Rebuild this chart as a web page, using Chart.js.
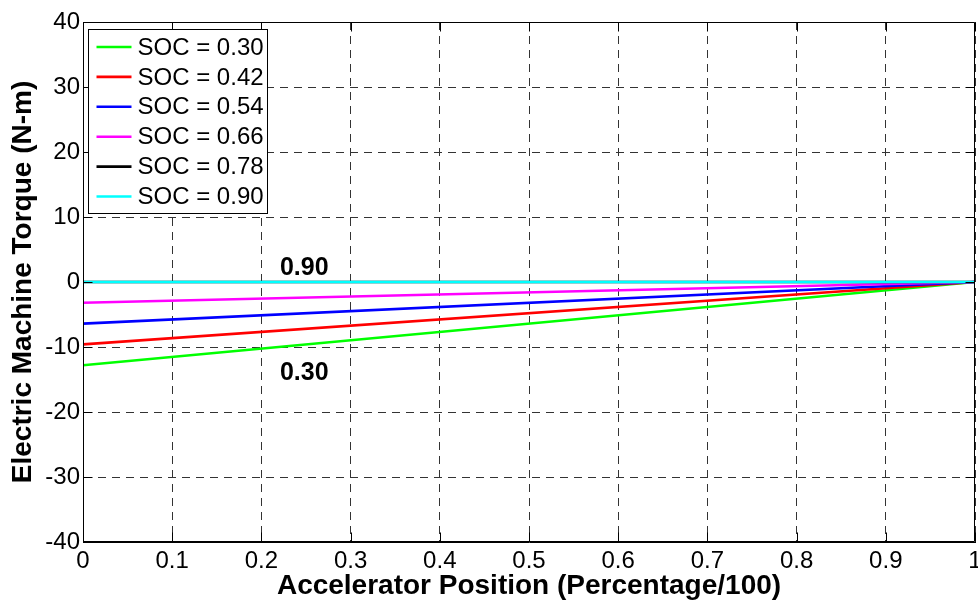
<!DOCTYPE html>
<html>
<head>
<meta charset="utf-8">
<script src="https://cdn.jsdelivr.net/npm/chart.js@4/dist/chart.umd.min.js"></script>
<style>
html,body{margin:0;padding:0;background:#ffffff;}
#wrap{width:978px;height:600px;position:relative;background:#ffffff;}
</style>
</head>
<body>
<div id="wrap"><canvas id="c" width="978" height="600"></canvas></div>
<script>
// ---- data ----
const accelPositions = [0, 1];
const socLabels = ['SOC = 0.30', 'SOC = 0.42', 'SOC = 0.54', 'SOC = 0.66', 'SOC = 0.78', 'SOC = 0.90'];
const torqueSoc030 = [-12.8, 0];
const torqueSoc042 = [-9.6, 0];
const torqueSoc054 = [-6.4, 0];
const torqueSoc066 = [-3.2, 0];
const torqueSoc078 = [0, 0];
const torqueSoc090 = [0, 0];
const seriesColors = ['#00ff00', '#ff0000', '#0000ff', '#ff00ff', '#000000', '#00ffff'];
const xTickValues = [0, 0.1, 0.2, 0.3, 0.4, 0.5, 0.6, 0.7, 0.8, 0.9, 1];
const xTickLabels = ['0', '0.1', '0.2', '0.3', '0.4', '0.5', '0.6', '0.7', '0.8', '0.9', '1'];
const yTickValues = [-40, -30, -20, -10, 0, 10, 20, 30, 40];
const yTickLabels = ['-40', '-30', '-20', '-10', '0', '10', '20', '30', '40'];
const annotationTexts = ['0.90', '0.30'];
const annotationX = [0.248, 0.248];
const annotationY = [2.1, -14.0];

const FONT = "'Liberation Sans', Arial, Helvetica, sans-serif";
const allSeries = [torqueSoc030, torqueSoc042, torqueSoc054, torqueSoc066, torqueSoc078, torqueSoc090];

const datasets = allSeries.map((vals, i) => ({
  label: socLabels[i],
  data: accelPositions.map((x, j) => ({x: x, y: vals[j]})),
  borderColor: seriesColors[i],
  backgroundColor: seriesColors[i],
  borderWidth: 2.6,
  pointRadius: 0,
  tension: 0,
  fill: false,
  order: allSeries.length - 1 - i
}));

const framePlugin = {
  id: 'frame',
  afterDraw(chart) {
    const ctx = chart.ctx;
    const a = chart.chartArea;
    const xs = chart.scales.x, ys = chart.scales.y;
    const L = Math.round(a.left) + 0.5, R = Math.round(a.right) - 0.5;
    const T = Math.round(a.top) + 0.5, B = Math.round(a.bottom) - 0.5;
    ctx.save();
    // annotations
    ctx.fillStyle = '#000';
    ctx.font = 'bold 25px ' + FONT;
    ctx.textAlign = 'center';
    ctx.textBaseline = 'middle';
    annotationTexts.forEach((t, i) => {
      ctx.fillText(t, xs.getPixelForValue(annotationX[i]), ys.getPixelForValue(annotationY[i]));
    });
    // frame
    ctx.strokeStyle = '#000';
    ctx.lineWidth = 1;
    ctx.setLineDash([]);
    ctx.beginPath();
    ctx.moveTo(L, T); ctx.lineTo(R, T); ctx.lineTo(R, B); ctx.lineTo(L, B); ctx.closePath();
    ctx.stroke();
    // inward ticks
    const tl = 9;
    ctx.beginPath();
    xTickValues.forEach(v => {
      const px = Math.round(xs.getPixelForValue(v)) + 0.5;
      ctx.moveTo(px, B); ctx.lineTo(px, B - tl);
      ctx.moveTo(px, T); ctx.lineTo(px, T + tl);
    });
    yTickValues.forEach(v => {
      const py = Math.round(ys.getPixelForValue(v)) + 0.5;
      ctx.moveTo(L, py); ctx.lineTo(L + tl, py);
      ctx.moveTo(R, py); ctx.lineTo(R - tl, py);
    });
    ctx.stroke();
    // legend
    const lx = L + 5, ly = T + 7, lw = 179, lh = 184;
    ctx.fillStyle = '#fff';
    ctx.fillRect(lx, ly, lw, lh);
    ctx.strokeStyle = '#000';
    ctx.strokeRect(lx, ly, lw, lh);
    ctx.font = '24px ' + FONT;
    ctx.textAlign = 'left';
    ctx.textBaseline = 'middle';
    chart.data.datasets.forEach((ds, i) => {
      const cy = ly + 17.5 + i * 29.9;
      ctx.strokeStyle = ds.borderColor;
      ctx.lineWidth = 2.6;
      ctx.beginPath();
      ctx.moveTo(lx + 8, cy); ctx.lineTo(lx + 43, cy);
      ctx.stroke();
      ctx.fillStyle = '#000';
      ctx.fillText(ds.label, lx + 49, cy + 1);
    });
    ctx.restore();
  }
};

new Chart(document.getElementById('c'), {
  type: 'line',
  data: {datasets: datasets},
  plugins: [framePlugin],
  options: {
    responsive: false,
    animation: false,
    devicePixelRatio: 1,
    layout: {padding: {left: 0, right: 3, top: 22, bottom: 0}},
    plugins: {legend: {display: false}, tooltip: {enabled: false}},
    scales: {
      x: {
        type: 'linear', position: 'bottom', min: 0, max: 1,
        afterBuildTicks: s => { s.ticks = xTickValues.map(v => ({value: v})); },
        afterFit: s => { s.height = 58; s.paddingLeft = 0; s.paddingRight = 0; },
        ticks: {
          callback: (v, i) => xTickLabels[i],
          font: {family: FONT, size: 24}, color: '#000', padding: 5, maxRotation: 0, autoSkip: false
        },
        grid: {color: '#333', lineWidth: 1, drawTicks: false},
        border: {display: true, color: '#000', width: 1, dash: [8, 6]},
        title: {display: true, text: 'Accelerator Position (Percentage/100)', color: '#000',
                font: {family: FONT, size: 28, weight: 'bold', lineHeight: 1}, padding: {top: 0, bottom: 0}}
      },
      y: {
        type: 'linear', position: 'left', min: -40, max: 40,
        afterBuildTicks: s => { s.ticks = yTickValues.map(v => ({value: v})); },
        afterFit: s => { s.width = 83; s.paddingTop = 0; s.paddingBottom = 0; },
        ticks: {
          callback: (v, i) => yTickLabels[i],
          font: {family: FONT, size: 24}, color: '#000', padding: 3, autoSkip: false
        },
        grid: {color: '#333', lineWidth: 1, drawTicks: false},
        border: {display: true, color: '#000', width: 1, dash: [8, 6]},
        title: {display: true, text: 'Electric Machine Torque (N-m)', color: '#000',
                font: {family: FONT, size: 28, weight: 'bold'}, padding: {top: 6, bottom: 0}}
      }
    }
  }
});
</script>
</body>
</html>
